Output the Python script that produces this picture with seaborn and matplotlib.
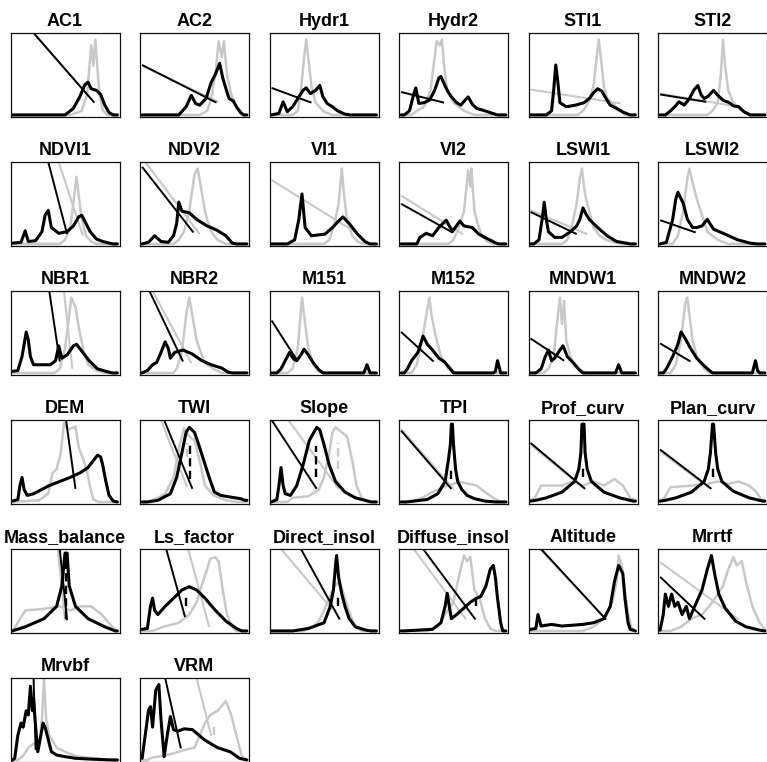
import matplotlib
matplotlib.use("Agg")
import matplotlib.pyplot as plt
import pandas as pd
import seaborn as sns

TITLES = [
    "AC1", "AC2", "Hydr1", "Hydr2", "STI1", "STI2",
    "NDVI1", "NDVI2", "VI1", "VI2", "LSWI1", "LSWI2",
    "NBR1", "NBR2", "M151", "M152", "MNDW1", "MNDW2",
    "DEM", "TWI", "Slope", "TPI", "Prof_curv", "Plan_curv",
    "Mass_balance", "Ls_factor", "Direct_insol", "Diffuse_insol", "Altitude", "Mrrtf",
    "Mrvbf", "VRM",
]

# density curves, scaled 0-1 on both axes: (x, y) pairs
GRAY_CURVES = [
    [(0, 0), (0.55, 0), (0.66, 0.05), (0.71, 0.25), (0.75, 0.85), (0.77, 0.6), (0.79, 0.92), (0.81, 0.55), (0.83, 0.25), (0.86, 0.06), (0.9, 0), (1, 0)],
    [(0, 0), (0.55, 0), (0.62, 0.05), (0.66, 0.2), (0.7, 0.5), (0.73, 0.9), (0.76, 0.7), (0.78, 0.9), (0.81, 0.5), (0.85, 0.25), (0.9, 0.1), (0.95, 0), (1, 0)],
    [(0, 0), (0.2, 0), (0.25, 0.05), (0.28, 0.3), (0.31, 0.7), (0.33, 0.92), (0.35, 0.7), (0.38, 0.35), (0.42, 0.15), (0.5, 0.04), (0.58, 0), (1, 0)],
    [(0, 0), (0.1, 0), (0.15, 0.05), (0.22, 0.1), (0.28, 0.3), (0.31, 0.6), (0.34, 0.9), (0.37, 0.85), (0.39, 0.92), (0.41, 0.6), (0.44, 0.3), (0.5, 0.15), (0.6, 0.05), (0.7, 0), (1, 0)],
    [(0, 0), (0.45, 0), (0.5, 0.05), (0.55, 0.15), (0.6, 0.35), (0.63, 0.7), (0.65, 0.92), (0.67, 0.7), (0.7, 0.35), (0.73, 0.2), (0.78, 0.15), (0.85, 0.05), (0.9, 0), (1, 0)],
    [(0, 0), (0.45, 0), (0.5, 0.05), (0.55, 0.15), (0.58, 0.5), (0.6, 0.92), (0.62, 0.6), (0.65, 0.3), (0.7, 0.15), (0.78, 0.05), (0.85, 0), (1, 0)],
    [(0, 0), (0.45, 0), (0.5, 0.05), (0.55, 0.2), (0.58, 0.5), (0.61, 0.82), (0.63, 0.6), (0.66, 0.3), (0.7, 0.1), (0.75, 0.03), (0.8, 0), (1, 0)],
    [(0, 0), (0.3, 0), (0.35, 0.05), (0.4, 0.15), (0.45, 0.4), (0.5, 0.85), (0.53, 0.92), (0.56, 0.7), (0.6, 0.4), (0.62, 0.3), (0.66, 0.15), (0.72, 0.05), (0.8, 0), (1, 0)],
    [(0, 0), (0.5, 0), (0.55, 0.05), (0.6, 0.25), (0.64, 0.5), (0.67, 0.92), (0.69, 0.6), (0.72, 0.3), (0.77, 0.1), (0.82, 0.03), (0.88, 0), (1, 0)],
    [(0, 0), (0.45, 0), (0.5, 0.05), (0.55, 0.2), (0.6, 0.4), (0.64, 0.9), (0.66, 0.7), (0.67, 0.92), (0.7, 0.4), (0.73, 0.25), (0.77, 0.1), (0.82, 0.03), (0.88, 0), (1, 0)],
    [(0, 0), (0.3, 0), (0.35, 0.05), (0.4, 0.25), (0.44, 0.5), (0.47, 0.8), (0.49, 0.92), (0.52, 0.6), (0.55, 0.45), (0.6, 0.2), (0.66, 0.1), (0.72, 0.05), (0.8, 0.02), (0.88, 0), (1, 0)],
    [(0, 0), (0.12, 0), (0.17, 0.1), (0.22, 0.4), (0.26, 0.8), (0.28, 0.92), (0.31, 0.75), (0.35, 0.55), (0.4, 0.35), (0.45, 0.15), (0.55, 0.05), (0.65, 0), (1, 0)],
    [(0, 0), (0.4, 0), (0.45, 0.05), (0.5, 0.3), (0.54, 0.7), (0.56, 0.92), (0.6, 0.8), (0.64, 0.5), (0.68, 0.25), (0.72, 0.1), (0.8, 0.03), (0.88, 0), (1, 0)],
    [(0, 0), (0.3, 0), (0.33, 0.05), (0.38, 0.25), (0.42, 0.7), (0.45, 0.92), (0.48, 0.7), (0.52, 0.4), (0.56, 0.25), (0.6, 0.12), (0.68, 0.05), (0.76, 0), (1, 0)],
    [(0, 0), (0.15, 0), (0.2, 0.05), (0.25, 0.3), (0.29, 0.92), (0.32, 0.6), (0.35, 0.3), (0.4, 0.1), (0.45, 0.02), (0.5, 0), (1, 0)],
    [(0, 0), (0.1, 0), (0.15, 0.1), (0.2, 0.4), (0.24, 0.7), (0.27, 0.92), (0.29, 0.7), (0.33, 0.45), (0.38, 0.2), (0.45, 0.05), (0.52, 0), (1, 0)],
    [(0, 0), (0.12, 0), (0.17, 0.05), (0.22, 0.2), (0.26, 0.7), (0.28, 0.92), (0.3, 0.6), (0.32, 0.88), (0.34, 0.4), (0.38, 0.2), (0.42, 0.08), (0.5, 0.02), (0.56, 0), (1, 0)],
    [(0, 0), (0.1, 0), (0.15, 0.1), (0.2, 0.4), (0.24, 0.85), (0.26, 0.92), (0.28, 0.7), (0.31, 0.4), (0.35, 0.2), (0.42, 0.05), (0.48, 0), (1, 0)],
    [(0, 0), (0.25, 0.02), (0.34, 0.1), (0.38, 0.35), (0.42, 0.4), (0.46, 0.6), (0.49, 0.96), (0.53, 0.88), (0.56, 0.9), (0.6, 0.92), (0.63, 0.67), (0.68, 0.5), (0.71, 0.37), (0.74, 0.18), (0.77, 0.03), (0.82, 0), (1, 0)],
    [(0, 0), (0.05, 0), (0.15, 0.05), (0.22, 0.1), (0.3, 0.3), (0.36, 0.7), (0.4, 0.9), (0.45, 0.8), (0.5, 0.75), (0.55, 0.5), (0.6, 0.2), (0.68, 0.08), (0.8, 0.02), (0.9, 0), (1, 0)],
    [(0, 0), (0.15, 0), (0.2, 0.05), (0.35, 0.07), (0.45, 0.15), (0.5, 0.3), (0.55, 0.6), (0.58, 0.85), (0.61, 0.91), (0.67, 0.85), (0.72, 0.8), (0.77, 0.5), (0.81, 0.2), (0.86, 0.05), (0.92, 0), (1, 0)],
    [(0, 0), (0.1, 0), (0.2, 0.05), (0.3, 0.12), (0.4, 0.18), (0.5, 0.22), (0.55, 0.25), (0.65, 0.22), (0.72, 0.2), (0.8, 0.12), (0.88, 0.05), (0.95, 0), (1, 0)],
    [(0, 0.02), (0.04, 0.05), (0.1, 0.2), (0.3, 0.2), (0.4, 0.25), (0.5, 0.2), (0.6, 0.25), (0.7, 0.2), (0.8, 0.28), (0.88, 0.2), (0.95, 0.05), (1, 0.02)],
    [(0, 0.02), (0.04, 0.05), (0.1, 0.18), (0.3, 0.2), (0.45, 0.22), (0.55, 0.25), (0.65, 0.22), (0.75, 0.25), (0.85, 0.2), (0.92, 0.12), (0.96, 0.04), (1, 0.02)],
    [(0, 0), (0.05, 0.1), (0.12, 0.25), (0.3, 0.27), (0.45, 0.3), (0.55, 0.25), (0.65, 0.3), (0.75, 0.3), (0.85, 0.2), (0.95, 0.05), (1, 0)],
    [(0, 0), (0.1, 0), (0.2, 0.05), (0.35, 0.1), (0.45, 0.2), (0.52, 0.35), (0.58, 0.6), (0.62, 0.75), (0.65, 0.88), (0.7, 0.9), (0.73, 0.85), (0.77, 0.5), (0.81, 0.2), (0.86, 0.05), (0.9, 0), (1, 0)],
    [(0, 0), (0.3, 0), (0.4, 0.05), (0.45, 0.12), (0.5, 0.25), (0.55, 0.4), (0.6, 0.55), (0.65, 0.6), (0.7, 0.4), (0.75, 0.2), (0.8, 0.05), (0.86, 0), (1, 0)],
    [(0, 0), (0.25, 0), (0.35, 0.05), (0.42, 0.2), (0.5, 0.35), (0.54, 0.6), (0.6, 0.92), (0.63, 0.85), (0.66, 0.9), (0.7, 0.5), (0.75, 0.4), (0.8, 0.15), (0.85, 0.03), (0.9, 0), (1, 0)],
    [(0, 0), (0.5, 0), (0.6, 0.05), (0.7, 0.15), (0.78, 0.35), (0.82, 0.6), (0.84, 0.92), (0.87, 0.8), (0.9, 0.5), (0.93, 0.2), (0.96, 0.05), (1, 0)],
    [(0, 0), (0.1, 0), (0.2, 0.05), (0.3, 0.15), (0.4, 0.2), (0.5, 0.35), (0.6, 0.55), (0.65, 0.75), (0.7, 0.9), (0.73, 0.8), (0.78, 0.85), (0.82, 0.6), (0.88, 0.3), (0.95, 0.1), (1, 0.02)],
    [(0, 0), (0.05, 0), (0.1, 0.05), (0.15, 0.15), (0.2, 0.2), (0.25, 0.15), (0.28, 0.5), (0.3, 0.98), (0.32, 0.5), (0.35, 0.3), (0.42, 0.15), (0.5, 0.1), (0.6, 0.05), (0.7, 0.03), (0.8, 0.02), (0.9, 0), (1, 0)],
    [(0, 0), (0.05, 0), (0.1, 0.03), (0.2, 0.05), (0.3, 0.08), (0.4, 0.12), (0.5, 0.15), (0.55, 0.3), (0.6, 0.45), (0.65, 0.55), (0.72, 0.6), (0.8, 0.72), (0.85, 0.55), (0.9, 0.3), (0.95, 0.05), (1, 0)],
]

BLACK_CURVES = [
    [(0, 0), (0.5, 0), (0.58, 0.08), (0.64, 0.22), (0.69, 0.37), (0.72, 0.4), (0.75, 0.32), (0.8, 0.3), (0.84, 0.25), (0.88, 0.12), (0.92, 0.03), (0.96, 0), (1, 0)],
    [(0, 0), (0.35, 0), (0.42, 0.1), (0.47, 0.24), (0.51, 0.14), (0.55, 0.12), (0.61, 0.2), (0.66, 0.4), (0.7, 0.5), (0.74, 0.63), (0.77, 0.45), (0.8, 0.32), (0.83, 0.2), (0.87, 0.17), (0.9, 0.1), (0.94, 0.03), (0.97, 0), (1, 0)],
    [(0, 0), (0.07, 0.02), (0.11, 0.16), (0.15, 0.04), (0.2, 0.1), (0.25, 0.2), (0.3, 0.3), (0.33, 0.33), (0.37, 0.26), (0.42, 0.3), (0.46, 0.36), (0.49, 0.22), (0.53, 0.14), (0.58, 0.1), (0.63, 0.05), (0.7, 0.01), (0.75, 0), (1, 0)],
    [(0, 0), (0.03, 0), (0.08, 0.05), (0.12, 0.25), (0.14, 0.33), (0.17, 0.14), (0.22, 0.15), (0.27, 0.18), (0.32, 0.3), (0.36, 0.45), (0.38, 0.47), (0.41, 0.38), (0.44, 0.3), (0.48, 0.22), (0.53, 0.15), (0.57, 0.12), (0.61, 0.18), (0.64, 0.22), (0.68, 0.13), (0.72, 0.08), (0.8, 0.05), (0.87, 0.02), (0.92, 0), (1, 0)],
    [(0, 0), (0.15, 0), (0.2, 0.05), (0.22, 0.3), (0.24, 0.61), (0.26, 0.4), (0.28, 0.15), (0.34, 0.1), (0.43, 0.12), (0.51, 0.15), (0.56, 0.2), (0.6, 0.27), (0.64, 0.32), (0.68, 0.29), (0.72, 0.2), (0.76, 0.12), (0.82, 0.08), (0.89, 0.03), (0.95, 0), (1, 0)],
    [(0, 0), (0.05, 0), (0.1, 0.05), (0.14, 0.1), (0.18, 0.16), (0.23, 0.12), (0.28, 0.2), (0.32, 0.3), (0.36, 0.36), (0.39, 0.25), (0.42, 0.2), (0.46, 0.23), (0.51, 0.3), (0.55, 0.24), (0.6, 0.18), (0.66, 0.15), (0.7, 0.11), (0.75, 0.1), (0.8, 0.04), (0.86, 0), (1, 0)],
    [(0, 0.01), (0.08, 0.02), (0.12, 0.16), (0.15, 0.03), (0.22, 0.04), (0.28, 0.15), (0.31, 0.35), (0.34, 0.41), (0.37, 0.2), (0.44, 0.13), (0.52, 0.15), (0.58, 0.22), (0.63, 0.33), (0.66, 0.35), (0.7, 0.25), (0.74, 0.15), (0.8, 0.06), (0.86, 0.03), (0.92, 0.01), (0.96, 0), (1, 0)],
    [(0, 0), (0.06, 0.02), (0.12, 0.1), (0.18, 0.03), (0.25, 0.02), (0.3, 0.1), (0.33, 0.25), (0.35, 0.51), (0.38, 0.4), (0.45, 0.38), (0.52, 0.3), (0.62, 0.22), (0.71, 0.17), (0.8, 0.1), (0.86, 0.01), (0.9, 0), (1, 0)],
    [(0, 0), (0.15, 0), (0.22, 0.05), (0.26, 0.3), (0.29, 0.61), (0.32, 0.2), (0.38, 0.1), (0.51, 0.12), (0.58, 0.2), (0.64, 0.28), (0.68, 0.33), (0.74, 0.25), (0.82, 0.12), (0.89, 0.03), (0.94, 0), (1, 0)],
    [(0, 0), (0.15, 0), (0.18, 0.08), (0.24, 0.13), (0.3, 0.1), (0.36, 0.2), (0.43, 0.29), (0.49, 0.15), (0.56, 0.28), (0.6, 0.22), (0.68, 0.2), (0.74, 0.12), (0.83, 0.06), (0.89, 0.02), (0.93, 0), (1, 0)],
    [(0, 0), (0.03, 0), (0.08, 0.05), (0.11, 0.3), (0.13, 0.51), (0.15, 0.3), (0.17, 0.15), (0.23, 0.08), (0.3, 0.08), (0.38, 0.15), (0.44, 0.22), (0.47, 0.3), (0.5, 0.44), (0.53, 0.36), (0.56, 0.3), (0.64, 0.2), (0.73, 0.1), (0.82, 0.03), (0.91, 0.01), (0.95, 0), (1, 0)],
    [(0, 0), (0.06, 0.02), (0.12, 0.3), (0.15, 0.55), (0.17, 0.63), (0.2, 0.55), (0.22, 0.5), (0.26, 0.3), (0.31, 0.2), (0.35, 0.2), (0.4, 0.22), (0.45, 0.3), (0.51, 0.18), (0.62, 0.12), (0.74, 0.05), (0.86, 0.01), (0.92, 0), (1, 0)],
    [(0, 0.02), (0.05, 0.03), (0.09, 0.2), (0.13, 0.5), (0.15, 0.4), (0.17, 0.2), (0.2, 0.1), (0.36, 0.1), (0.41, 0.15), (0.44, 0.33), (0.47, 0.18), (0.52, 0.22), (0.58, 0.33), (0.61, 0.35), (0.67, 0.25), (0.73, 0.15), (0.81, 0.05), (0.89, 0.02), (0.95, 0), (1, 0)],
    [(0, 0), (0.05, 0.03), (0.1, 0.1), (0.14, 0.13), (0.18, 0.25), (0.22, 0.38), (0.25, 0.3), (0.27, 0.18), (0.31, 0.25), (0.39, 0.28), (0.48, 0.23), (0.57, 0.15), (0.66, 0.1), (0.76, 0.06), (0.82, 0.01), (0.86, 0), (1, 0)],
    [(0, 0), (0.05, 0), (0.09, 0.05), (0.13, 0.15), (0.17, 0.25), (0.21, 0.17), (0.24, 0.15), (0.28, 0.22), (0.31, 0.29), (0.35, 0.22), (0.4, 0.12), (0.45, 0.04), (0.49, 0), (0.88, 0), (0.91, 0.1), (0.94, 0), (1, 0)],
    [(0, 0), (0.03, 0), (0.06, 0.05), (0.1, 0.15), (0.16, 0.25), (0.21, 0.45), (0.25, 0.35), (0.3, 0.28), (0.36, 0.18), (0.41, 0.14), (0.47, 0.05), (0.5, 0), (0.88, 0), (0.9, 0.02), (0.92, 0.15), (0.95, 0), (1, 0)],
    [(0, 0), (0.05, 0), (0.1, 0.05), (0.14, 0.2), (0.17, 0.28), (0.2, 0.15), (0.23, 0.18), (0.28, 0.28), (0.31, 0.33), (0.35, 0.2), (0.41, 0.12), (0.47, 0.03), (0.5, 0), (0.81, 0), (0.84, 0.1), (0.87, 0), (1, 0)],
    [(0, 0), (0.03, 0), (0.06, 0.05), (0.12, 0.2), (0.17, 0.35), (0.2, 0.5), (0.24, 0.42), (0.29, 0.3), (0.35, 0.18), (0.41, 0.1), (0.47, 0.03), (0.5, 0), (0.88, 0), (0.91, 0.15), (0.93, 0.03), (0.95, 0), (1, 0)],
    [(0, 0.01), (0.05, 0.03), (0.07, 0.2), (0.09, 0.3), (0.11, 0.15), (0.14, 0.08), (0.2, 0.1), (0.35, 0.2), (0.45, 0.25), (0.55, 0.3), (0.65, 0.36), (0.72, 0.42), (0.78, 0.52), (0.81, 0.57), (0.84, 0.55), (0.86, 0.45), (0.89, 0.25), (0.92, 0.08), (0.96, 0.01), (1, 0)],
    [(0, 0), (0.05, 0), (0.15, 0.02), (0.27, 0.1), (0.33, 0.3), (0.38, 0.6), (0.42, 0.85), (0.45, 0.91), (0.5, 0.85), (0.54, 0.7), (0.59, 0.5), (0.64, 0.3), (0.69, 0.12), (0.75, 0.08), (0.84, 0.06), (0.94, 0.04), (0.98, 0.02), (1, 0.02)],
    [(0, 0), (0.05, 0.03), (0.07, 0.2), (0.09, 0.42), (0.11, 0.2), (0.13, 0.1), (0.18, 0.08), (0.24, 0.2), (0.3, 0.45), (0.36, 0.75), (0.43, 0.91), (0.46, 0.88), (0.5, 0.7), (0.55, 0.45), (0.61, 0.25), (0.7, 0.12), (0.8, 0.05), (0.89, 0.02), (0.95, 0), (1, 0)],
    [(0, 0), (0.05, 0), (0.25, 0.03), (0.35, 0.1), (0.42, 0.25), (0.45, 0.5), (0.47, 0.7), (0.48, 0.95), (0.49, 0.95), (0.5, 0.7), (0.52, 0.4), (0.54, 0.25), (0.58, 0.15), (0.63, 0.08), (0.7, 0.04), (0.8, 0.01), (0.9, 0), (1, 0)],
    [(0, 0.01), (0.05, 0.02), (0.15, 0.05), (0.3, 0.12), (0.42, 0.25), (0.46, 0.4), (0.48, 0.6), (0.49, 0.95), (0.51, 0.95), (0.52, 0.6), (0.54, 0.4), (0.58, 0.25), (0.7, 0.12), (0.85, 0.05), (0.98, 0.01), (1, 0.01)],
    [(0, 0.01), (0.05, 0.02), (0.15, 0.05), (0.3, 0.12), (0.42, 0.25), (0.46, 0.4), (0.48, 0.6), (0.5, 0.95), (0.51, 0.95), (0.53, 0.6), (0.55, 0.4), (0.59, 0.25), (0.7, 0.13), (0.85, 0.05), (0.98, 0.01), (1, 0.01)],
    [(0, 0), (0.02, 0.01), (0.12, 0.05), (0.3, 0.15), (0.42, 0.3), (0.47, 0.55), (0.5, 0.95), (0.52, 0.95), (0.54, 0.55), (0.6, 0.3), (0.72, 0.15), (0.88, 0.05), (0.98, 0), (1, 0)],
    [(0, 0.02), (0.05, 0.03), (0.08, 0.3), (0.1, 0.4), (0.12, 0.25), (0.15, 0.2), (0.22, 0.3), (0.3, 0.4), (0.38, 0.5), (0.45, 0.54), (0.52, 0.5), (0.6, 0.4), (0.7, 0.25), (0.8, 0.12), (0.9, 0.03), (0.95, 0), (1, 0)],
    [(0, 0), (0.2, 0), (0.35, 0.03), (0.5, 0.1), (0.56, 0.3), (0.59, 0.5), (0.61, 0.8), (0.62, 0.92), (0.64, 0.65), (0.67, 0.45), (0.7, 0.3), (0.74, 0.15), (0.8, 0.05), (0.9, 0.01), (0.95, 0), (1, 0)],
    [(0, 0), (0.02, 0), (0.3, 0.02), (0.38, 0.1), (0.42, 0.3), (0.44, 0.46), (0.46, 0.3), (0.48, 0.15), (0.53, 0.2), (0.6, 0.28), (0.66, 0.35), (0.72, 0.4), (0.76, 0.42), (0.81, 0.55), (0.85, 0.75), (0.88, 0.8), (0.9, 0.65), (0.92, 0.4), (0.95, 0.1), (0.97, 0), (1, 0)],
    [(0, 0.02), (0.05, 0.03), (0.07, 0.2), (0.1, 0.06), (0.2, 0.08), (0.3, 0.06), (0.4, 0.07), (0.5, 0.08), (0.6, 0.1), (0.7, 0.15), (0.76, 0.3), (0.8, 0.6), (0.84, 0.8), (0.88, 0.7), (0.9, 0.4), (0.93, 0.1), (0.95, 0.02), (1, 0)],
    [(0, 0.01), (0.03, 0.2), (0.05, 0.45), (0.08, 0.3), (0.11, 0.45), (0.14, 0.3), (0.17, 0.35), (0.21, 0.2), (0.25, 0.3), (0.28, 0.15), (0.33, 0.3), (0.4, 0.5), (0.45, 0.75), (0.49, 0.92), (0.52, 0.7), (0.56, 0.45), (0.62, 0.28), (0.72, 0.12), (0.82, 0.05), (0.95, 0.01), (1, 0)],
    [(0, 0), (0.02, 0.02), (0.05, 0.3), (0.08, 0.45), (0.1, 0.4), (0.13, 0.6), (0.15, 0.55), (0.17, 0.9), (0.19, 0.6), (0.2, 0.75), (0.22, 0.4), (0.24, 0.1), (0.27, 0.3), (0.29, 0.45), (0.31, 0.4), (0.33, 0.3), (0.37, 0.1), (0.42, 0.06), (0.5, 0.04), (0.6, 0.02), (0.75, 0.01), (0.95, 0), (1, 0)],
    [(0, 0.02), (0.04, 0.4), (0.06, 0.6), (0.08, 0.65), (0.1, 0.4), (0.13, 0.85), (0.16, 0.92), (0.18, 0.5), (0.21, 0.04), (0.24, 0.3), (0.27, 0.53), (0.3, 0.37), (0.34, 0.35), (0.4, 0.38), (0.48, 0.37), (0.6, 0.24), (0.72, 0.15), (0.84, 0.1), (0.93, 0.02), (1, 0)],
]

# straight fitted lines: (x0, y0, x1, y1); None where not drawn
GRAY_LINES = [
    (0.12, 1.12, 0.76, 0.18), (0, 0.6, 0.73, 0.16), None, None, (0, 0.31, 0.86, 0.14), (0, 0.26, 0.75, 0.1),
    (0.44, 1.0, 0.67, 0.1), (0.03, 1.0, 0.55, 0.12), (0, 0.78, 0.83, 0.12), (0, 0.59, 0.59, 0.12), (0, 0.41, 0.54, 0.12), None,
    (0.49, 1.0, 0.57, 0.05), (0.1, 1.0, 0.47, 0.12), None, None, None, None,
    None, (0.18, 1.0, 0.43, 0.18), (0.16, 1.0, 0.64, 0.16), (0, 0.89, 0.5, 0.16), (0, 0.7, 0.5, 0.17), (0, 0.62, 0.47, 0.17),
    (0.43, 1.0, 0.5, 0.13), (0.44, 1.0, 0.64, 0.05), (0.09, 1.0, 0.58, 0.26), (0.12, 1.0, 0.62, 0.14), (0.09, 1.0, 0.71, 0.15), (0, 0.84, 0.75, 0.14),
    None, (0.52, 1.0, 0.66, 0.29),
]
BLACK_LINES = [
    (0.2, 1.0, 0.78, 0.15), (0, 0.61, 0.71, 0.15), (0, 0.33, 0.38, 0.15), (0, 0.28, 0.41, 0.15), None, (0, 0.25, 0.44, 0.16),
    (0.34, 1.0, 0.52, 0.12), (0, 0.94, 0.49, 0.14), None, (0, 0.49, 0.49, 0.14), (0, 0.39, 0.44, 0.12), (0, 0.29, 0.34, 0.14),
    (0.35, 1.0, 0.45, 0.14), (0.07, 1.0, 0.39, 0.14), (0, 0.64, 0.25, 0.14), (0, 0.5, 0.31, 0.14), (0, 0.42, 0.32, 0.15), (0, 0.36, 0.29, 0.14),
    (0.51, 1.0, 0.6, 0.16), (0.21, 1.0, 0.48, 0.16), (0, 1.0, 0.43, 0.16), (0, 0.87, 0.48, 0.16), (0, 0.72, 0.52, 0.16), (0, 0.64, 0.49, 0.16),
    (0.45, 1.0, 0.52, 0.13), (0.23, 1.0, 0.41, 0.17), (0.28, 1.0, 0.65, 0.14), (0.21, 1.0, 0.71, 0.14), (0.1, 1.0, 0.72, 0.14), (0, 0.66, 0.43, 0.14),
    (0.2, 1.0, 0.22, 0.12), (0.22, 1.0, 0.37, 0.14),
]

# dashed vertical markers: (x, y_low, y_high)
GRAY_DASH = {
    "TWI": (0.43, 0.55, 0.72), "Slope": (0.63, 0.4, 0.72), "VRM": (0.69, 0.3, 0.45),
}
BLACK_DASH = {
    "TWI": (0.46, 0.28, 0.69), "Slope": (0.42, 0.3, 0.68), "TPI": (0.48, 0.28, 0.42),
    "Prof_curv": (0.5, 0.3, 0.45), "Plan_curv": (0.5, 0.3, 0.45), "Mass_balance": (0.51, 0.15, 0.9),
    "Ls_factor": (0.42, 0.3, 0.44), "Direct_insol": (0.63, 0.3, 0.45), "Diffuse_insol": (0.71, 0.3, 0.45),
}

GRAY = "#c8c8c8"
BLACK = "#000000"
W, H = 767, 762


def _curve(ax, pts, color, lw):
    df = pd.DataFrame(pts, columns=["x", "y"])
    sns.lineplot(data=df, x="x", y="y", color=color, lw=lw, sort=False,
                 estimator=None, ax=ax)


def _segment(ax, seg, color, lw):
    if seg is None:
        return
    x0, y0, x1, y1 = seg
    ax.plot([x0, x1], [y0, y1], color=color, lw=lw, solid_capstyle="butt")


def _dash(ax, d, color):
    if d is None:
        return
    x, y0, y1 = d
    ax.plot([x, x], [y0, y1], color=color, lw=1.7, ls=(0, (3.5, 1.8)))


def main():
    sns.set_theme(style="white")
    plt.rcParams["font.family"] = ["Liberation Sans", "DejaVu Sans"]

    fig = plt.figure(figsize=(W / 100, H / 100), dpi=100)
    for i, title in enumerate(TITLES):
        r, c = divmod(i, 6)
        left = 10.5 + 129.5 * c
        top = 33 + 129 * r
        ax = fig.add_axes([left / W, 1 - (top + 84) / H, 109 / W, 84 / H])

        _curve(ax, GRAY_CURVES[i], GRAY, 1.8)
        _segment(ax, GRAY_LINES[i], GRAY, 1.5)
        _dash(ax, GRAY_DASH.get(title), GRAY)
        _curve(ax, BLACK_CURVES[i], BLACK, 2.2)
        _segment(ax, BLACK_LINES[i], BLACK, 1.4)
        _dash(ax, BLACK_DASH.get(title), BLACK)

        ax.set_xlim(-0.02, 1.02)
        ax.set_ylim(-0.025, 1.0)
        ax.set_xticks([])
        ax.set_yticks([])
        ax.set_xlabel("")
        ax.set_ylabel("")
        for sp in ax.spines.values():
            sp.set_color("#111111")
            sp.set_linewidth(0.9)
        ax.set_title(title, fontsize=13, fontweight="bold", color="black", pad=5)

    fig.savefig("out.png", dpi=100)
    plt.close(fig)


if __name__ == "__main__":
    main()
